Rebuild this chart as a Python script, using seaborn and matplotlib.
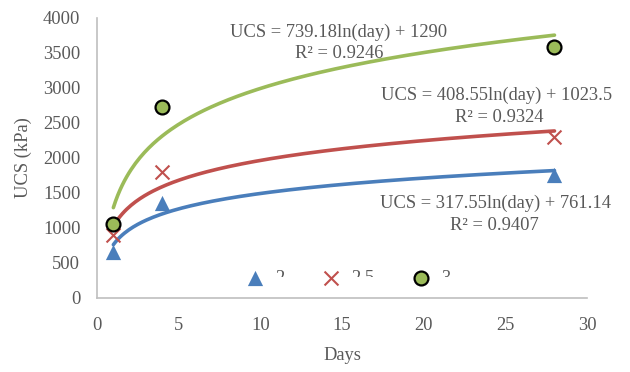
import numpy as np
import pandas as pd
import matplotlib
matplotlib.use("Agg")
import matplotlib.pyplot as plt
from matplotlib.transforms import Bbox, TransformedBbox
import seaborn as sns

# Curing time and unconfined compressive strength for three binder contents
days = [1, 4, 28]
ucs_2 = [660, 1350, 1750]
ucs_25 = [900, 1800, 2300]
ucs_3 = [1050, 2720, 3580]
series_names = ["2", "2.5", "3"]

# Logarithmic trendline coefficients: UCS = a ln(day) + b
trend_a = [317.55, 408.55, 739.18]
trend_b = [761.14, 1023.5, 1290]
trend_r2 = ["0.9407", "0.9324", "0.9246"]

x_ticks = [0, 5, 10, 15, 20, 25, 30]
y_ticks = [0, 500, 1000, 1500, 2000, 2500, 3000, 3500, 4000]

sns.set_theme(style="white")
plt.rcParams["font.family"] = ["Liberation Serif", "DejaVu Serif"]

colors = ["#4A7EBB", "#C0504D", "#9BBB59"]
gray_text = "#595959"
fs = 13.3

fig = plt.figure(figsize=(6.3, 3.72), dpi=100)
ax = fig.add_axes([0.154, 0.199, 0.778, 0.753])

df = pd.DataFrame({
    "Days": days * 3,
    "UCS": ucs_2 + ucs_25 + ucs_3,
    "Series": [series_names[0]] * 3 + [series_names[1]] * 3 + [series_names[2]] * 3,
})

# Trendlines
t = np.linspace(1, 28, 200)
for a, b, c in zip(trend_a, trend_b, colors):
    sns.lineplot(x=t, y=a * np.log(t) + b, ax=ax, color=c, lw=2.6, zorder=2)

# Data points
sub = df[df.Series == "2"]
ax.scatter(sub.Days, sub.UCS, marker="^", s=120, color=colors[0], zorder=3,
           label="2", linewidths=0)
sub = df[df.Series == "2.5"]
ax.scatter(sub.Days, sub.UCS, marker="x", s=100, color=colors[1], zorder=3,
           label="2.5", linewidths=1.5)
sub = df[df.Series == "3"]
ax.scatter(sub.Days, sub.UCS, marker="o", s=100, color=colors[2], zorder=4,
           edgecolors="black", linewidths=1.6, label="3")

# Trendline equations
eq_pos = [(495, 203, 494, 226), (497, 95, 499, 118), (339, 32, 339, 54)]
for a, b, r2, (ex, ey, rx, ry) in zip(trend_a, trend_b, trend_r2, eq_pos):
    fig.text(ex / 630, 1 - ey / 372, f"UCS = {a:g}ln(day) + {b:g}", ha="center",
             va="center", fontsize=fs, color=gray_text)
    fig.text(rx / 630, 1 - ry / 372, f"R² = {r2}", ha="center", va="center",
             fontsize=fs, color=gray_text)

ax.set_xlim(0, 30)
ax.set_ylim(0, 4000)
ax.set_xticks(x_ticks)
ax.set_yticks(y_ticks)
ax.tick_params(axis="both", labelsize=fs, colors=gray_text, length=0)
ax.tick_params(axis="x", pad=14)
ax.tick_params(axis="y", pad=12)
ax.set_xlabel("Days", fontsize=fs, color=gray_text, labelpad=9)
ax.set_ylabel("UCS (kPa)", fontsize=fs, color=gray_text, labelpad=8)

for side in ["top", "right"]:
    ax.spines[side].set_visible(False)
for side in ["left", "bottom"]:
    ax.spines[side].set_color("#BFBFBF")
    ax.spines[side].set_linewidth(1.2)

leg = ax.legend(loc="lower center", bbox_to_anchor=(0.503, 0.0), ncol=3,
                frameon=False, fontsize=fs, handletextpad=0.1, columnspacing=1.5,
                scatterpoints=1, borderaxespad=0.2)
# the legend strip is cut off just below the marker centres
clip = TransformedBbox(Bbox([[0, 1 - 277 / 372], [1, 1]]), fig.transFigure)
for txt in leg.get_texts():
    txt.set_color(gray_text)
    txt.set_clip_box(clip)
    txt.set_clip_on(True)

fig.savefig("out.png", dpi=100)
